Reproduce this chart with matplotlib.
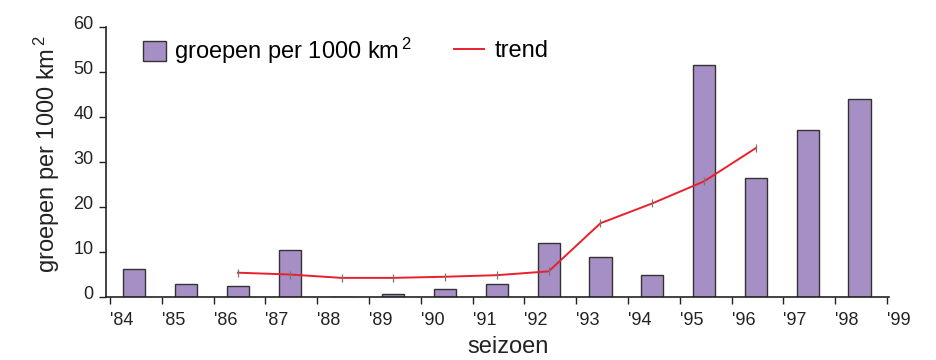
import matplotlib.pyplot as plt
from matplotlib.patches import Patch
from matplotlib.lines import Line2D
from matplotlib.transforms import ScaledTranslation

plt.rcParams['font.family'] = ['Liberation Sans', 'DejaVu Sans']
plt.rcParams['mathtext.fontset'] = 'custom'
plt.rcParams['mathtext.rm'] = 'Liberation Sans'
plt.rcParams['mathtext.it'] = 'Liberation Sans'

# seizoenen en waarden
seizoenen = [84, 85, 86, 87, 88, 89, 90, 91, 92, 93, 94, 95, 96, 97, 98]
groepen = [6.2, 2.8, 2.5, 10.4, 0, 0.7, 1.8, 2.9, 11.9, 9.0, 4.9, 51.6, 26.4, 37.1, 44.0]

trend_seizoenen = [86, 87, 88, 89, 90, 91, 92, 93, 94, 95, 96]
trend = [5.4, 5.0, 4.25, 4.25, 4.5, 4.85, 5.7, 16.4, 20.8, 25.7, 33.1]

tick_jaren = list(range(84, 100))
tick_labels = ["'%d" % j for j in tick_jaren]

fig = plt.figure(figsize=(9.36, 3.6), dpi=100)
ax = fig.add_axes([106 / 936, 1 - 297 / 360, (889 - 106) / 936, 270 / 360])

bar_kleur = '#a68fc4'
ax.bar([s + 0.47 for s in seizoenen], groepen, width=0.43,
       color=bar_kleur, edgecolor='#333333', linewidth=1.0, zorder=2)
ax.plot([s + 0.47 for s in trend_seizoenen], trend, color='#e8202a', lw=1.4,
        marker='|', markersize=6, markeredgecolor='#777777', markeredgewidth=0.9, zorder=3)

ax.set_xlim(83.923, 99.04)
ax.set_ylim(0, 60)
ax.set_xticks(tick_jaren)
ax.set_xticklabels(tick_labels, ha='left')
ax.set_yticks(range(0, 61, 10))
ax.tick_params(axis='both', labelsize=13, colors='#222222', length=5, width=1)
ax.tick_params(axis='x', pad=6)
ax.tick_params(axis='y', pad=4)
# y-labels iets boven de streepjes, zoals in het origineel
omhoog = ScaledTranslation(0, 3 / 72, fig.dpi_scale_trans)
for lab in ax.get_yticklabels():
    lab.set_transform(lab.get_transform() + omhoog)

for s in ['top', 'right']:
    ax.spines[s].set_visible(False)
for s in ['left', 'bottom']:
    ax.spines[s].set_linewidth(1.2)
    ax.spines[s].set_color('#222222')

ax.set_ylabel('groepen per 1000 km$^{\\,2}$', fontsize=17, color='#222222')
ax.yaxis.set_label_coords(-0.056, 0.53)
ax.set_xlabel('seizoen', fontsize=17, color='#222222')
ax.xaxis.set_label_coords(0.513, -0.145)

leg1 = fig.legend(handles=[Patch(facecolor=bar_kleur, edgecolor='#333333', linewidth=1.0)],
                  labels=['groepen per 1000 km$^{\\,2}$'], loc='center left',
                  bbox_to_anchor=(134 / 936, 1 - 51 / 360), frameon=False, fontsize=17,
                  handlelength=0.95, handleheight=0.95, handletextpad=0.35, borderaxespad=0)
leg2 = fig.legend(handles=[Line2D([], [], color='#e8202a', lw=1.4)],
                  labels=['trend'], loc='center left',
                  bbox_to_anchor=(445 / 936, 1 - 51 / 360), frameon=False, fontsize=17,
                  handlelength=1.25, handletextpad=0.45, borderaxespad=0)

fig.savefig('out.png', dpi=100)
